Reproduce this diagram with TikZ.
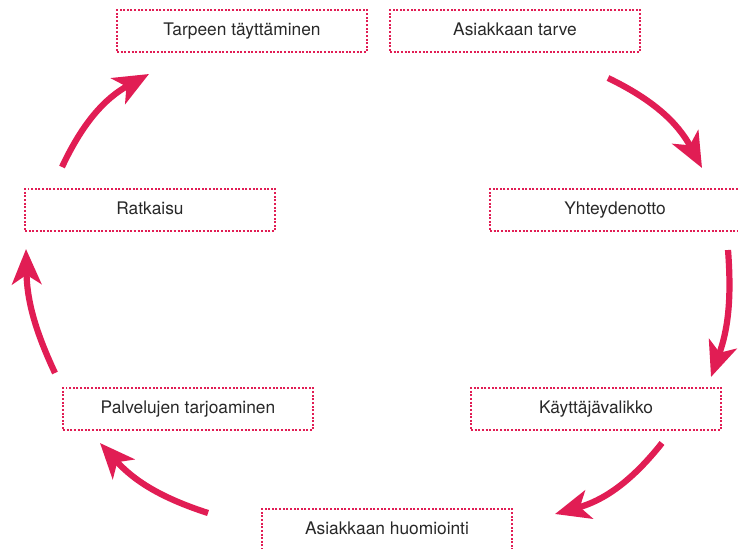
\documentclass[tikz,border=0pt]{standalone}
\usepackage{fontspec}
\setmainfont{TeX Gyre Heros}
\usepackage{xcolor}
\usetikzlibrary{arrows.meta}
\definecolor{cyclered}{RGB}{225,29,84}
\definecolor{labelgray}{RGB}{40,40,40}

\begin{document}
\begin{tikzpicture}[x=0.03cm, y=0.03cm,
  stage/.style={draw=cyclered, line width=1.9pt, dash pattern=on 1.7pt off 1.4pt, minimum width=7.5cm, minimum height=1.26cm, inner sep=0pt, text=labelgray, text height=8pt, text depth=1pt, font=\fontsize{14.8}{17}\selectfont},
  flow/.style={draw=cyclered, line width=5.3pt, -{Stealth[length=30pt, width=25pt, inset=8pt]}}
]
  \useasboundingbox (0,0) rectangle (738,-548);

  % Stages (clockwise from the top)
  \node[stage] (tarve)       at (515,-31)  {Asiakkaan tarve};
  \node[stage] (yhteys)      at (615,-210) {Yhteydenotto};
  \node[stage] (valikko)     at (596,-409) {Käyttäjävalikko};
  \node[stage] (huomiointi)  at (387,-530) {Asiakkaan huomiointi};
  \node[stage] (palvelut)    at (188,-409) {Palvelujen tarjoaminen};
  \node[stage] (ratkaisu)    at (150,-210) {Ratkaisu};
  \node[stage] (tayttaminen) at (242,-31)  {Tarpeen täyttäminen};

  % Arrow ends (free, between the stages)
  \coordinate (a1s) at (608,-78);  \coordinate (a1e) at (702,-168);
  \coordinate (a2s) at (728,-250); \coordinate (a2e) at (711,-377);
  \coordinate (a3s) at (662,-443); \coordinate (a3e) at (555,-514);
  \coordinate (a4s) at (208,-513); \coordinate (a4e) at (100,-443);
  \coordinate (a5s) at (55,-373);  \coordinate (a5e) at (26,-249);
  \coordinate (a6s) at (62,-167);  \coordinate (a6e) at (149,-74);

  % Cycle arrows
  \draw[flow] (a1s) to[bend left=18] (a1e);
  \draw[flow] (a2s) to[bend left=12] (a2e);
  \draw[flow] (a3s) to[bend left=18] (a3e);
  \draw[flow] (a4s) to[bend left=15] (a4e);
  \draw[flow] (a5s) to[bend left=12] (a5e);
  \draw[flow] (a6s) to[bend left=18] (a6e);

\end{tikzpicture}
\end{document}
